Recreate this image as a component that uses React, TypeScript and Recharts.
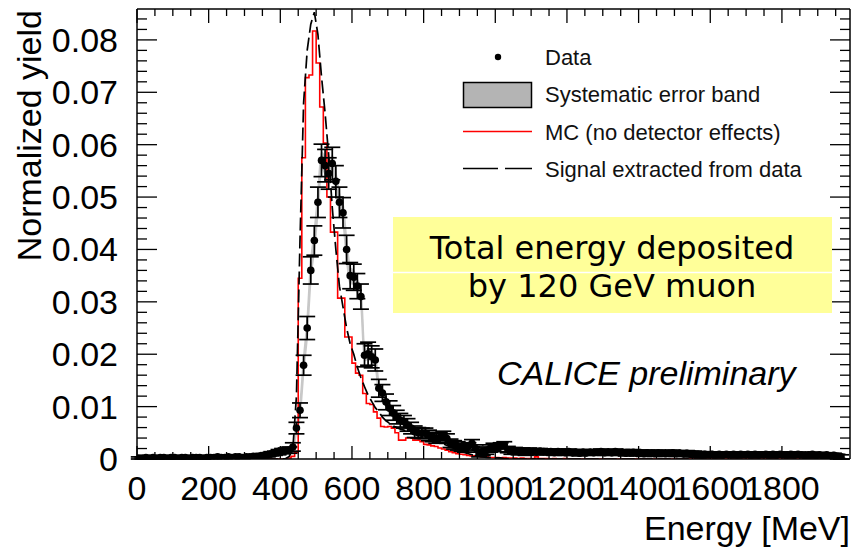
import React from 'react';
import { ComposedChart, XAxis, YAxis, Line, Area, Scatter, ErrorBar } from 'recharts';

// Bin centres (MeV), 10 MeV bins
const energy = [
  5, 15, 25, 35, 45, 55, 65, 75, 85, 95,
  105, 115, 125, 135, 145, 155, 165, 175, 185, 195,
  205, 215, 225, 235, 245, 255, 265, 275, 285, 295,
  305, 315, 325, 335, 345, 355, 365, 375, 385, 395,
  405, 415, 425, 435, 445, 455, 465, 475, 485, 495,
  505, 515, 525, 535, 545, 555, 565, 575, 585, 595,
  605, 615, 625, 635, 645, 655, 665, 675, 685, 695,
  705, 715, 725, 735, 745, 755, 765, 775, 785, 795,
  805, 815, 825, 835, 845, 855, 865, 875, 885, 895,
  905, 915, 925, 935, 945, 955, 965, 975, 985, 995,
  1005, 1015, 1025, 1035, 1045, 1055, 1065, 1075, 1085, 1095,
  1105, 1115, 1125, 1135, 1145, 1155, 1165, 1175, 1185, 1195,
  1205, 1215, 1225, 1235, 1245, 1255, 1265, 1275, 1285, 1295,
  1305, 1315, 1325, 1335, 1345, 1355, 1365, 1375, 1385, 1395,
  1405, 1415, 1425, 1435, 1445, 1455, 1465, 1475, 1485, 1495,
  1505, 1515, 1525, 1535, 1545, 1555, 1565, 1575, 1585, 1595,
  1605, 1615, 1625, 1635, 1645, 1655, 1665, 1675, 1685, 1695,
  1705, 1715, 1725, 1735, 1745, 1755, 1765, 1775, 1785, 1795,
  1805, 1815, 1825, 1835, 1845, 1855, 1865, 1875, 1885, 1895,
  1905, 1915, 1925, 1935, 1945, 1955, 1965,
];

// Data points
const dataY = [
  0.0002, 0.0002, 0.0003, 0.0002, 0.0003, 0.0002, 0.0003, 0.0003, 0.0002, 0.0003,
  0.0003, 0.0002, 0.0003, 0.0003, 0.0002, 0.0003, 0.0003, 0.0003, 0.0002, 0.0003,
  0.0003, 0.0003, 0.0004, 0.0003, 0.0003, 0.0004, 0.0003, 0.0004, 0.0004, 0.0003,
  0.0004, 0.0004, 0.0005, 0.0005, 0.0006, 0.0007, 0.0008, 0.0010, 0.0011, 0.0013,
  0.0015, 0.0016, 0.0017, 0.0023, 0.0059, 0.0093, 0.0179, 0.0250, 0.0360, 0.0417,
  0.0490, 0.0570, 0.0560, 0.0545, 0.0564, 0.0530, 0.0490, 0.0470, 0.0400, 0.0350,
  0.0347, 0.0330, 0.0310, 0.0198, 0.0201, 0.0195, 0.0189, 0.0135, 0.0126, 0.0109,
  0.0097, 0.0088, 0.0080, 0.0074, 0.0071, 0.0065, 0.0059, 0.0052, 0.0050, 0.0049,
  0.0049, 0.0045, 0.0042, 0.0039, 0.0041, 0.0044, 0.0039, 0.0030, 0.0027, 0.0025,
  0.0022, 0.0020, 0.0024, 0.0030, 0.0020, 0.0011, 0.0014, 0.0016, 0.0020, 0.0023,
  0.0020, 0.0025, 0.0027, 0.0018, 0.0015, 0.0016, 0.0014, 0.0015, 0.0013, 0.0015,
  0.0014, 0.0013, 0.0015, 0.0014, 0.0013, 0.0014, 0.0012, 0.0014, 0.0013, 0.0012,
  0.0014, 0.0012, 0.0013, 0.0011, 0.0013, 0.0012, 0.0013, 0.0012, 0.0013, 0.0014,
  0.0012, 0.0013, 0.0012, 0.0014, 0.0012, 0.0013, 0.0011, 0.0012, 0.0013, 0.0011,
  0.0012, 0.0010, 0.0012, 0.0011, 0.0010, 0.0012, 0.0011, 0.0010, 0.0011, 0.0012,
  0.0010, 0.0011, 0.0010, 0.0011, 0.0009, 0.0010, 0.0009, 0.0008, 0.0009, 0.0008,
  0.0009, 0.0008, 0.0009, 0.0008, 0.0009, 0.0008, 0.0009, 0.0008, 0.0009, 0.0008,
  0.0009, 0.0008, 0.0009, 0.0008, 0.0008, 0.0009, 0.0008, 0.0009, 0.0008, 0.0009,
  0.0008, 0.0008, 0.0009, 0.0008, 0.0009, 0.0008, 0.0007, 0.0008, 0.0009, 0.0007,
  0.0008, 0.0007, 0.0008, 0.0006, 0.0007, 0.0005, 0.0004,
];

// Statistical errors of data
const dataErr = [
  0.0002, 0.0002, 0.0002, 0.0002, 0.0002, 0.0002, 0.0002, 0.0002, 0.0002, 0.0002,
  0.0002, 0.0002, 0.0002, 0.0002, 0.0002, 0.0002, 0.0002, 0.0002, 0.0002, 0.0002,
  0.0002, 0.0002, 0.0002, 0.0002, 0.0002, 0.0002, 0.0002, 0.0002, 0.0002, 0.0002,
  0.0002, 0.0002, 0.0003, 0.0003, 0.0003, 0.0003, 0.0004, 0.0004, 0.0004, 0.0005,
  0.0005, 0.0005, 0.0006, 0.0008, 0.0011, 0.0014, 0.0019, 0.0022, 0.0026, 0.0028,
  0.0029, 0.0031, 0.0031, 0.0030, 0.0031, 0.0030, 0.0029, 0.0029, 0.0027, 0.0025,
  0.0025, 0.0024, 0.0024, 0.0022, 0.0022, 0.0021, 0.0021, 0.0017, 0.0016, 0.0015,
  0.0014, 0.0014, 0.0013, 0.0013, 0.0012, 0.0012, 0.0011, 0.0011, 0.0010, 0.0010,
  0.0010, 0.0010, 0.0009, 0.0009, 0.0009, 0.0009, 0.0009, 0.0008, 0.0008, 0.0008,
  0.0007, 0.0007, 0.0007, 0.0007, 0.0007, 0.0007, 0.0007, 0.0007, 0.0007, 0.0007,
  0.0006, 0.0006, 0.0006, 0.0006, 0.0006, 0.0006, 0.0006, 0.0006, 0.0006, 0.0006,
  0.0005, 0.0005, 0.0005, 0.0005, 0.0005, 0.0005, 0.0005, 0.0005, 0.0005, 0.0005,
  0.0005, 0.0005, 0.0005, 0.0005, 0.0005, 0.0005, 0.0005, 0.0005, 0.0005, 0.0005,
  0.0005, 0.0005, 0.0005, 0.0005, 0.0005, 0.0005, 0.0005, 0.0005, 0.0005, 0.0005,
  0.0005, 0.0005, 0.0005, 0.0005, 0.0005, 0.0005, 0.0005, 0.0005, 0.0005, 0.0005,
  0.0005, 0.0005, 0.0005, 0.0005, 0.0005, 0.0005, 0.0005, 0.0005, 0.0005, 0.0005,
  0.0004, 0.0004, 0.0004, 0.0004, 0.0004, 0.0004, 0.0004, 0.0004, 0.0004, 0.0004,
  0.0004, 0.0004, 0.0004, 0.0004, 0.0004, 0.0004, 0.0004, 0.0004, 0.0004, 0.0004,
  0.0004, 0.0004, 0.0004, 0.0004, 0.0004, 0.0004, 0.0004, 0.0004, 0.0004, 0.0004,
  0.0004, 0.0004, 0.0004, 0.0004, 0.0004, 0.0004, 0.0004,
];

// Systematic error (half width of the grey band)
const sysErr = [
  0.0003, 0.0003, 0.0003, 0.0003, 0.0003, 0.0003, 0.0003, 0.0003, 0.0003, 0.0003,
  0.0003, 0.0003, 0.0003, 0.0003, 0.0003, 0.0003, 0.0003, 0.0003, 0.0003, 0.0003,
  0.0003, 0.0003, 0.0003, 0.0003, 0.0003, 0.0003, 0.0003, 0.0003, 0.0003, 0.0003,
  0.0003, 0.0003, 0.0003, 0.0003, 0.0003, 0.0003, 0.0003, 0.0003, 0.0003, 0.0003,
  0.0003, 0.0003, 0.0004, 0.0004, 0.0006, 0.0008, 0.0010, 0.0012, 0.0014, 0.0015,
  0.0015, 0.0015, 0.0015, 0.0015, 0.0015, 0.0015, 0.0015, 0.0015, 0.0015, 0.0015,
  0.0012, 0.0012, 0.0011, 0.0010, 0.0010, 0.0009, 0.0009, 0.0008, 0.0008, 0.0007,
  0.0007, 0.0006, 0.0006, 0.0006, 0.0006, 0.0006, 0.0006, 0.0006, 0.0006, 0.0006,
  0.0005, 0.0005, 0.0005, 0.0005, 0.0005, 0.0005, 0.0005, 0.0005, 0.0005, 0.0005,
  0.0004, 0.0004, 0.0004, 0.0004, 0.0004, 0.0004, 0.0004, 0.0004, 0.0004, 0.0004,
  0.0004, 0.0004, 0.0004, 0.0004, 0.0004, 0.0004, 0.0004, 0.0004, 0.0004, 0.0004,
  0.0003, 0.0003, 0.0003, 0.0003, 0.0003, 0.0003, 0.0003, 0.0003, 0.0003, 0.0003,
  0.0003, 0.0003, 0.0003, 0.0003, 0.0003, 0.0003, 0.0003, 0.0003, 0.0003, 0.0003,
  0.0003, 0.0003, 0.0003, 0.0003, 0.0003, 0.0003, 0.0003, 0.0003, 0.0003, 0.0003,
  0.0003, 0.0003, 0.0003, 0.0003, 0.0003, 0.0003, 0.0003, 0.0003, 0.0003, 0.0003,
  0.0003, 0.0003, 0.0003, 0.0003, 0.0003, 0.0003, 0.0003, 0.0003, 0.0003, 0.0003,
  0.0003, 0.0003, 0.0003, 0.0003, 0.0003, 0.0003, 0.0003, 0.0003, 0.0003, 0.0003,
  0.0003, 0.0003, 0.0003, 0.0003, 0.0003, 0.0003, 0.0003, 0.0003, 0.0003, 0.0003,
  0.0003, 0.0003, 0.0003, 0.0003, 0.0003, 0.0003, 0.0003, 0.0003, 0.0003, 0.0003,
  0.0003, 0.0003, 0.0003, 0.0003, 0.0003, 0.0003, 0.0003,
];

// MC (no detector effects) histogram
const mcY = [
  0, 0, 0, 0, 0, 0, 0, 0, 0, 0,
  0, 0, 0, 0, 0, 0, 0, 0, 0, 0,
  0, 0, 0, 0, 0, 0, 0, 0, 0, 0,
  0, 0, 0, 0, 0, 0, 0, 0, 0, 0,
  0, 0, 0.0002, 0.0005, 0.0012, 0.0345, 0.0575, 0.0728, 0.0733, 0.0817,
  0.0756, 0.0672, 0.0603, 0.0500, 0.0433, 0.0433, 0.0307, 0.0307, 0.0233, 0.0233,
  0.0183, 0.0164, 0.0160, 0.0125, 0.0106, 0.0104, 0.0090, 0.0078, 0.0062, 0.0061,
  0.0062, 0.0059, 0.0050, 0.0036, 0.0036, 0.0040, 0.0040, 0.0036, 0.0036, 0.0033,
  0.0028, 0.0027, 0.0025, 0.0024, 0.0021, 0.0019, 0.0017, 0.0014, 0.0012, 0.0010,
  0.0009, 0.0008, 0.0007, 0.0006, 0.0006, 0.0005, 0.0004, 0.0004, 0.0003, 0.0003,
  0.0003, 0.0002, 0.0003, 0.0002, 0.0002, 0.0002, 0.0001, 0.0002, 0.0001, 0.0001,
  0.0001, 0.0004, 0.0001, 0.0001, 0.0001, 0, 0.0001, 0, 0, 0.0001,
  0, 0, 0, 0, 0, 0, 0, 0, 0, 0,
  0, 0, 0, 0, 0, 0, 0, 0, 0, 0,
  0, 0, 0, 0, 0, 0, 0, 0, 0, 0,
  0, 0, 0, 0, 0, 0, 0, 0, 0, 0,
  0, 0, 0, 0, 0, 0, 0, 0, 0, 0,
  0, 0, 0, 0, 0, 0, 0, 0, 0, 0,
  0, 0, 0, 0, 0, 0, 0, 0, 0, 0,
  0, 0, 0, 0, 0, 0, 0,
];

// Signal extracted from data
const signalY = [
  0, 0, 0, 0, 0, 0, 0, 0, 0, 0,
  0, 0, 0, 0, 0, 0, 0, 0, 0, 0,
  0, 0, 0, 0, 0, 0, 0, 0, 0, 0,
  0, 0, 0, 0, 0, 0, 0, 0, 0, 0,
  0, 0.0001, 0.0005, 0.0020, 0.0120, 0.0420, 0.0680, 0.0780, 0.0830, 0.0853,
  0.0810, 0.0730, 0.0660, 0.0580, 0.0480, 0.0400, 0.0330, 0.0290, 0.0250, 0.0220,
  0.0200, 0.0175, 0.0155, 0.0138, 0.0122, 0.0110, 0.0098, 0.0090, 0.0080, 0.0073,
  0.0068, 0.0063, 0.0060, 0.0057, 0.0055, 0.0053, 0.0051, 0.0049, 0.0047, 0.0044,
  0.0041, 0.0039, 0.0037, 0.0035, 0.0032, 0.0029, 0.0026, 0.0023, 0.0020, 0.0017,
  0.0015, 0.0012, 0.0010, 0.0008, 0.0006, 0.0005, 0.0004, 0.0003, 0.0003, 0.0002,
  0.0002, 0.0002, 0.0001, 0.0001, 0.0001, 0, 0, 0, 0, 0,
  0, 0, 0, 0, 0, 0, 0, 0, 0, 0,
  0, 0, 0, 0, 0, 0, 0, 0, 0, 0,
  0, 0, 0, 0, 0, 0, 0, 0, 0, 0,
  0, 0, 0, 0, 0, 0, 0, 0, 0, 0,
  0, 0, 0, 0, 0, 0, 0, 0, 0, 0,
  0, 0, 0, 0, 0, 0, 0, 0, 0, 0,
  0, 0, 0, 0, 0, 0, 0, 0, 0, 0,
  0, 0, 0, 0, 0, 0, 0, 0, 0, 0,
  0, 0, 0, 0, 0, 0, 0,
];

// Axis ticks
const xTicks = [
  0, 50, 100, 150, 200, 250, 300, 350, 400, 450, 500, 550, 600, 650, 700, 750,
  800, 850, 900, 950, 1000, 1050, 1100, 1150, 1200, 1250, 1300, 1350, 1400, 1450,
  1500, 1550, 1600, 1650, 1700, 1750, 1800, 1850, 1900, 1950,
];
const xLabels = [0, 200, 400, 600, 800, 1000, 1200, 1400, 1600, 1800];
const yTicks = [
  0, 0.002, 0.004, 0.006, 0.008, 0.01, 0.012, 0.014, 0.016, 0.018, 0.02, 0.022,
  0.024, 0.026, 0.028, 0.03, 0.032, 0.034, 0.036, 0.038, 0.04, 0.042, 0.044, 0.046,
  0.048, 0.05, 0.052, 0.054, 0.056, 0.058, 0.06, 0.062, 0.064, 0.066, 0.068, 0.07,
  0.072, 0.074, 0.076, 0.078, 0.08, 0.082, 0.084,
];
const yLabels = [0, 0.01, 0.02, 0.03, 0.04, 0.05, 0.06, 0.07, 0.08];

const rows = energy.map((e, i) => ({
  e,
  data: dataY[i],
  err: dataErr[i],
  band: [dataY[i] - sysErr[i], dataY[i] + sysErr[i]],
  mc: mcY[i],
  sig: signalY[i],
}));

const FONT = '"Liberation Sans", Arial, Helvetica, sans-serif';
const isXMajor = (v: number) => xLabels.indexOf(v) >= 0;
const isYMajor = (v: number) => yLabels.some((l) => Math.abs(l - v) < 1e-9);

const BottomTick = (p: any) => {
  const v = p.payload.value;
  const major = isXMajor(v);
  return (
    <g>
      <line x1={p.x} x2={p.x} y1={p.y} y2={p.y - (major ? 13 : 7)} stroke="#000" strokeWidth={1.3} />
      {major && (
        <text x={p.x} y={p.y + 41} textAnchor="middle" fontSize={34} fontFamily={FONT} fill="#000">
          {v}
        </text>
      )}
    </g>
  );
};

const TopTick = (p: any) => {
  const v = p.payload.value;
  const major = isXMajor(v);
  return <line x1={p.x} x2={p.x} y1={p.y} y2={p.y + (major ? 14 : 7)} stroke="#000" strokeWidth={1.3} />;
};

const LeftTick = (p: any) => {
  const v = p.payload.value;
  const major = isYMajor(v);
  return (
    <g>
      <line x1={p.x} x2={p.x + (major ? 20 : 10)} y1={p.y} y2={p.y} stroke="#000" strokeWidth={1.3} />
      {major && (
        <text x={p.x - 19} y={p.y + 12} textAnchor="end" fontSize={34} fontFamily={FONT} fill="#000">
          {v === 0 ? '0' : v.toFixed(2)}
        </text>
      )}
    </g>
  );
};

const RightTick = (p: any) => {
  const v = p.payload.value;
  const major = isYMajor(v);
  return <line x1={p.x} x2={p.x - (major ? 20 : 10)} y1={p.y} y2={p.y} stroke="#000" strokeWidth={1.3} />;
};

const Dot = (p: any) => <circle cx={p.cx} cy={p.cy} r={3.8} fill="#000" />;

export default function App() {
  return (
    <div style={{ position: 'absolute', left: 0, top: 0, width: 861, height: 548, background: '#fff' }}>
      <ComposedChart
        width={861}
        height={548}
        data={rows}
        margin={{ top: 8, right: 0, bottom: 0, left: 0 }}
      >
        <XAxis
          xAxisId="bottom"
          dataKey="e"
          type="number"
          domain={[0, 1990]}
          allowDataOverflow
          ticks={xTicks}
          interval={0}
          tickSize={0}
          tickMargin={0}
          tick={<BottomTick />}
          height={89}
          axisLine={{ stroke: '#000', strokeWidth: 1.5 }}
          tickLine={false}
        />
        <XAxis
          xAxisId="top"
          orientation="top"
          dataKey="e"
          type="number"
          domain={[0, 1990]}
          allowDataOverflow
          ticks={xTicks}
          interval={0}
          tickSize={0}
          tickMargin={0}
          tick={<TopTick />}
          height={1}
          axisLine={{ stroke: '#000', strokeWidth: 1.5 }}
          tickLine={false}
        />
        <YAxis
          yAxisId="left"
          type="number"
          domain={[0, 0.0859]}
          allowDataOverflow
          ticks={yTicks}
          interval={0}
          tickSize={0}
          tickMargin={0}
          tick={<LeftTick />}
          width={137}
          axisLine={{ stroke: '#000', strokeWidth: 1.5 }}
          tickLine={false}
        />
        <YAxis
          yAxisId="right"
          orientation="right"
          type="number"
          domain={[0, 0.0859]}
          allowDataOverflow
          ticks={yTicks}
          interval={0}
          tickSize={0}
          tickMargin={0}
          tick={<RightTick />}
          width={11}
          axisLine={{ stroke: '#000', strokeWidth: 1.5 }}
          tickLine={false}
        />
        <Area
          xAxisId="bottom"
          yAxisId="left"
          dataKey="band"
          type="monotone"
          fill="#bdbdbd"
          fillOpacity={1}
          stroke="#c8c8c8"
          strokeWidth={2}
          isAnimationActive={false}
        />
        <Line
          xAxisId="bottom"
          yAxisId="left"
          dataKey="mc"
          type="step"
          stroke="#ff0000"
          strokeWidth={1.6}
          dot={false}
          isAnimationActive={false}
        />
        <Line
          xAxisId="bottom"
          yAxisId="left"
          dataKey="sig"
          type="linear"
          stroke="#000"
          strokeWidth={1.7}
          strokeDasharray="13 5"
          dot={false}
          isAnimationActive={false}
        />
        <Scatter
          xAxisId="bottom"
          yAxisId="left"
          dataKey="data"
          shape={<Dot />}
          fill="#000"
          isAnimationActive={false}
        >
          <ErrorBar dataKey="err" direction="y" width={8} stroke="#000" strokeWidth={1.7} />
        </Scatter>
      </ComposedChart>

      <svg
        width={861}
        height={548}
        style={{ position: 'absolute', left: 0, top: 0, pointerEvents: 'none' }}
      >
        {/* axis titles */}
        <text
          x={41}
          y={10}
          transform="rotate(-90 41 10)"
          textAnchor="end"
          fontSize={34}
          fontFamily={FONT}
          fill="#000"
        >
          Normalized yield
        </text>
        <text x={850} y={540} textAnchor="end" fontSize={34} fontFamily={FONT} fill="#000">
          Energy [MeV]
        </text>

        {/* legend */}
        <circle cx={498} cy={57} r={3.2} fill="#000" />
        <text x={545} y={65} fontSize={22} fontFamily={FONT} fill="#111">Data</text>
        <rect x={463.5} y={82.5} width={68} height={25} fill="#b4b4b4" stroke="#000" strokeWidth={1.5} />
        <text x={545} y={102} fontSize={22} fontFamily={FONT} fill="#111">Systematic error band</text>
        <line x1={463} x2={532} y1={131.5} y2={131.5} stroke="#ff0000" strokeWidth={1.5} />
        <text x={545} y={140} fontSize={22} fontFamily={FONT} fill="#111">MC (no detector effects)</text>
        <line x1={463} x2={498} y1={168.5} y2={168.5} stroke="#000" strokeWidth={1.5} />
        <line x1={505} x2={532} y1={168.5} y2={168.5} stroke="#000" strokeWidth={1.5} />
        <text x={545} y={177} fontSize={22} fontFamily={FONT} fill="#111">Signal extracted from data</text>

        {/* yellow annotation box */}
        <rect x={393} y={217} width={439} height={96} fill="#ffff99" />
        <line x1={393} x2={832} y1={272.5} y2={272.5} stroke="#ffffff" strokeWidth={1.5} />
        <text x={612} y={259} textAnchor="middle" fontSize={32} fontFamily='"DejaVu Sans", Verdana, sans-serif' fill="#000">
          Total energy deposited
        </text>
        <text x={612} y={297} textAnchor="middle" fontSize={32} fontFamily='"DejaVu Sans", Verdana, sans-serif' fill="#000">
          by 120 GeV muon
        </text>

        {/* preliminary label */}
        <text x={497} y={385} fontSize={34} fontStyle="italic" fontFamily={FONT} fill="#000">
          CALICE preliminary
        </text>
      </svg>
    </div>
  );
}
